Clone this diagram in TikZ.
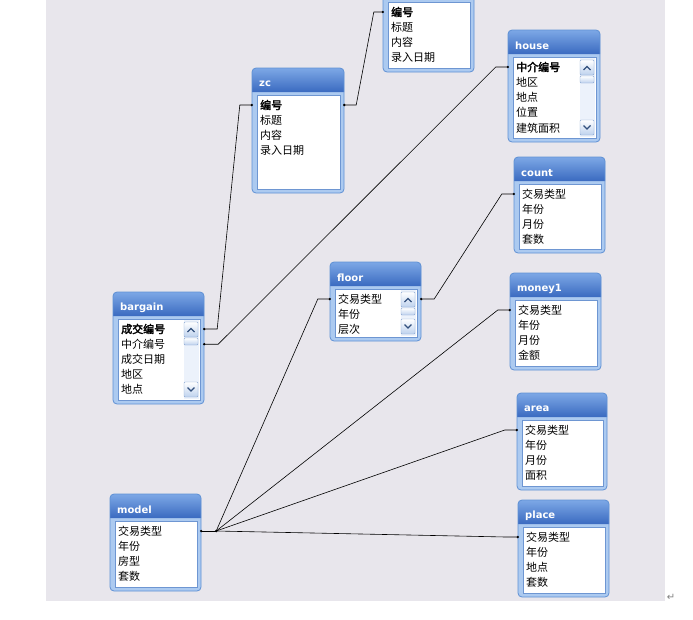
\documentclass[tikz,border=0pt]{standalone}
\usepackage{fontspec}
\setmainfont{Noto Sans CJK SC}[AutoFakeBold=2.5]
\newfontfamily\hdfont{DejaVu Sans}
\newfontfamily\symfont{DejaVu Sans}
\usetikzlibrary{fit,calc,arrows.meta}
\definecolor{bggray}{RGB}{232,230,236}
\definecolor{tabedge}{RGB}{95,145,212}
\definecolor{tabbody}{RGB}{172,202,240}
\definecolor{hdtop}{RGB}{125,168,230}
\definecolor{hdbot}{RGB}{58,106,192}
\definecolor{listedge}{RGB}{110,150,210}
\definecolor{trackc}{RGB}{236,242,251}
\definecolor{btnedge}{RGB}{140,168,210}
\definecolor{chevc}{RGB}{50,80,125}
\tikzset{
  rowtext/.style={anchor=west, inner sep=0pt, font=\fontsize{11}{13}\selectfont},
  titletext/.style={anchor=west, inner sep=0pt, text=white, font=\hdfont\bfseries\fontsize{10}{12}\selectfont},
  btn/.style={draw=btnedge, top color=white, bottom color={rgb,255:red,190;green,210;blue,238}, rounded corners=1pt},
  chev/.style={draw=chevc, line width=1.1pt},
  link/.style={draw=black, line width=0.6pt},
  endot/.style={fill=black},
}
\newcommand\dbt[8]{%
  \path[fill=tabbody, rounded corners=4pt] (#2,#3) rectangle (#4,#5);
  \path[top color=hdtop, bottom color=hdbot] (#2,#3+24) {[rounded corners=4pt] -- (#2,#3) -- (#4,#3)} -- (#4,#3+24) -- cycle;
  \draw[tabedge, line width=0.8pt, rounded corners=4pt] (#2,#3) rectangle (#4,#5);
  \node[titletext] (#1-title) at (#2+7,#3+16) {#6};
  \draw[fill=white, draw=listedge] (#2+5,#3+27) rectangle (#4-4,#5-4);
  \ifnum#8=1
    \fill[trackc] (#4-20,#3+28) rectangle (#4-5,#5-5);
    \draw[btn] (#4-20,#3+30) rectangle (#4-6,#3+45);
    \draw[chev] (#4-16.5,#3+40) -- (#4-13,#3+36.5) -- (#4-9.5,#3+40);
    \draw[btn] (#4-20,#3+46) rectangle (#4-6,#3+53);
    \draw[btn] (#4-20,#5-22) rectangle (#4-6,#5-7);
    \draw[chev] (#4-16.5,#5-16.5) -- (#4-13,#5-13) -- (#4-9.5,#5-16.5);
  \fi
  \foreach \r [count=\i] in {#7} {
    \node[rowtext] (#1-\i) at (#2+8,#3+37+15.2*\i-15.2) {\r};
  }
  \node[fit={(#2,#3) (#4,#5)}, inner sep=0pt] (#1) {};
}
\begin{document}
\begin{tikzpicture}[x=1pt,y=-1pt]
\useasboundingbox (0,0) rectangle (693,619);
\fill[bggray] (46,0) rectangle (665,601);

\dbt{top}{383}{-25}{474}{72}{}{{\bfseries 编号},标题,内容,录入日期}{0}
\dbt{zc}{252}{68}{344}{193}{zc}{{\bfseries 编号},标题,内容,录入日期}{0}
\dbt{house}{508}{30}{600}{142}{house}{{\bfseries 中介编号},地区,地点,位置,建筑面积}{1}
\dbt{count}{514}{157}{605}{253}{count}{交易类型,年份,月份,套数}{0}
\dbt{floor}{330}{262}{421}{341}{floor}{交易类型,年份,层次}{1}
\dbt{bargain}{113}{292}{204}{404}{bargain}{{\bfseries 成交编号},中介编号,成交日期,地区,地点}{1}
\dbt{money1}{510}{273}{601}{370}{money1}{交易类型,年份,月份,金额}{0}
\dbt{area}{517}{393}{607}{490}{area}{交易类型,年份,月份,面积}{0}
\dbt{model}{110}{494}{201}{591}{model}{交易类型,年份,房型,套数}{0}
\dbt{place}{518}{500}{609}{597}{place}{交易类型,年份,地点,套数}{0}

% connectors
\draw[link] (zc.east |- zc-1) -- ++(12,0) -- ($(top.west |- top-1)+(-9,0)$) -- (top.west |- top-1);
\draw[link] (bargain.east |- bargain-1) -- ++(13,0) -- ($(zc.west |- zc-1)+(-12,0)$) -- (zc.west |- zc-1);
\draw[link] (bargain.east |- bargain-2) -- ++(14,0) -- ($(house.west |- house-1)+(-12,0)$) -- (house.west |- house-1);
\draw[link] (floor.east |- floor-1) -- ++(13,0) -- ($(count.west |- count-1)+(-12,0)$) -- (count.west |- count-1);
\coordinate (mj) at ($(model.east |- model-1)+(15,0)$);
\draw[link] (model.east |- model-1) -- (mj);
\draw[link] (mj) -- ($(floor.west |- floor-1)+(-12,0)$) -- (floor.west |- floor-1);
\draw[link] (mj) -- ($(money1.west |- money1-1)+(-12,0)$) -- (money1.west |- money1-1);
\draw[link] (mj) -- ($(area.west |- area-1)+(-12,0)$) -- (area.west |- area-1);
\draw[link] (mj) -- ($(place.west |- place-1)+(-12,0)$) -- (place.west |- place-1);

% end dots
\foreach \p in {zc.east |- zc-1, top.west |- top-1, bargain.east |- bargain-1, zc.west |- zc-1,
  bargain.east |- bargain-2, house.west |- house-1, floor.east |- floor-1, count.west |- count-1,
  model.east |- model-1, floor.west |- floor-1, money1.west |- money1-1, area.west |- area-1, place.west |- place-1}
  \fill[endot] (\p) circle (1.3pt);
\fill[endot] (mj) circle (1.4pt);

\node[text=gray, font=\symfont\fontsize{10}{12}\selectfont] (ret) at (671,597) {↵};
\end{tikzpicture}
\end{document}
